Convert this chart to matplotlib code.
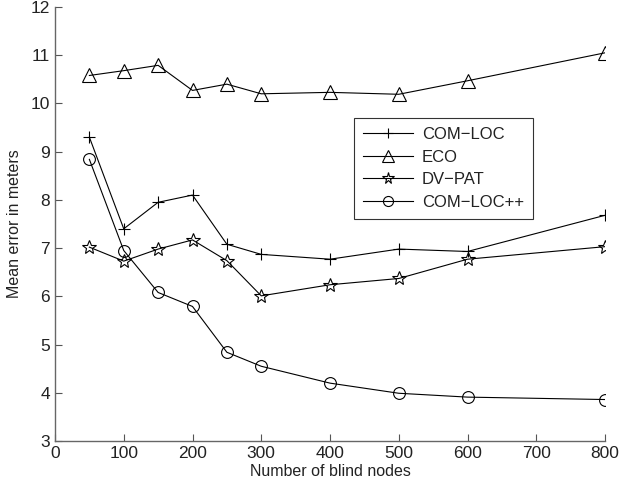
import matplotlib
matplotlib.use("Agg")
import matplotlib.pyplot as plt

plt.rcParams['font.family'] = ['Liberation Sans', 'DejaVu Sans']

nodes = [50, 100, 150, 200, 250, 300, 400, 500, 600, 800]
com_loc = [9.30, 7.40, 7.95, 8.10, 7.08, 6.87, 6.77, 6.98, 6.93, 7.68]
eco = [10.58, 10.68, 10.79, 10.27, 10.40, 10.20, 10.23, 10.19, 10.47, 11.05]
dv_pat = [7.02, 6.73, 6.98, 7.17, 6.74, 6.01, 6.24, 6.37, 6.77, 7.03]
com_loc_pp = [8.84, 6.95, 6.08, 5.79, 4.84, 4.55, 4.20, 3.99, 3.91, 3.86]

fig = plt.figure(figsize=(6.2, 4.91), dpi=100)
ax = fig.add_axes([55/620, 50/491, 550/620, 434/491])

common = dict(color='black', lw=0.8, mfc='none', mec='black', mew=0.8)
ax.plot(nodes, com_loc, marker='+', ms=8, label='COM\u2212LOC', **common)
ax.plot(nodes, eco, marker='^', ms=9.5, label='ECO', **common)
ax.plot(nodes, dv_pat, marker='*', ms=10, label='DV\u2212PAT', **common)
ax.plot(nodes, com_loc_pp, marker='o', ms=8.5, label='COM\u2212LOC++', **common)

ax.set_xlim(0, 800)
ax.set_ylim(3, 12)
ax.set_xticks(range(0, 801, 100))
ax.set_yticks(range(3, 13))
ax.tick_params(direction='in', labelsize=12.5, length=5, color='#555555',
               labelcolor='#222222')
for s in ['top', 'right']:
    ax.spines[s].set_visible(False)
for s in ['left', 'bottom']:
    ax.spines[s].set_color('#666666')
    ax.spines[s].set_linewidth(1.0)

ax.set_xlabel('Number of blind nodes', fontsize=11.5, labelpad=2, color='#222222')
ax.set_ylabel('Mean error in meters', fontsize=11.5, labelpad=6, color='#222222')

leg = ax.legend(loc='upper left', bbox_to_anchor=(0.544, 0.744), fontsize=12,
                frameon=True, fancybox=False, edgecolor='black',
                borderaxespad=0, handlelength=3.0, borderpad=0.55,
                labelspacing=0.45, handletextpad=0.5, markerscale=0.85)
leg.get_frame().set_linewidth(0.8)
for t in leg.get_texts():
    t.set_color('#222222')

fig.savefig('out.png', dpi=100)
